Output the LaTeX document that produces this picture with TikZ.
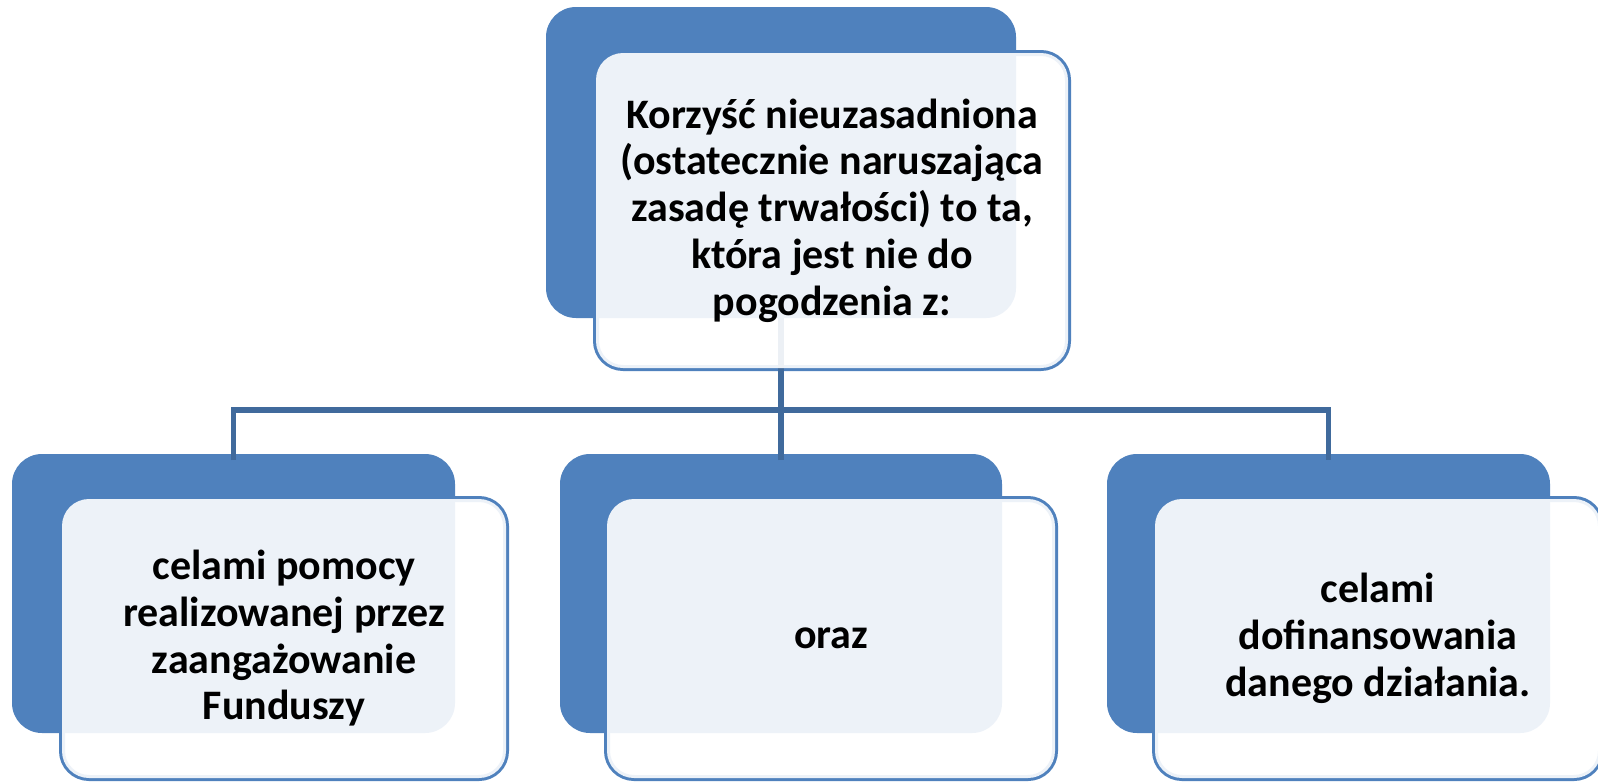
\documentclass[tikz,border=0pt]{standalone}
\usepackage{fontspec}
\setmainfont{Carlito}
\definecolor{backblue}{RGB}{79,129,189}
\definecolor{linkblue}{RGB}{64,106,156}
\tikzset{
  backbox/.style={rectangle, rounded corners=30pt, fill=backblue, draw=none, inner sep=0pt, outer sep=0pt},
  frontout/.style={rectangle, rounded corners=27pt, fill=white, draw=backblue, line width=6pt, inner sep=0pt, outer sep=0pt},
  frontfill/.style={rectangle, rounded corners=27pt, fill=white, fill opacity=0.9, text opacity=1, draw=none, inner sep=0pt, outer sep=0pt, align=center, font=\bfseries\fontsize{42}{46.7}\selectfont},
  link/.style={draw=linkblue, line width=5.5pt}
}
\begin{document}
\begin{tikzpicture}[x=1pt,y=-1pt]
\useasboundingbox (0,0) rectangle (1598,782);
% outlines of front boxes
\node[frontout, minimum width=472pt, minimum height=315pt] (f0o) at (832,210.5) {};
\node[frontout, minimum width=444pt, minimum height=279pt] (f1o) at (284,638.5) {};
\node[frontout, minimum width=448pt, minimum height=279pt] (f2o) at (831,638.5) {};
\node[frontout, minimum width=446pt, minimum height=279pt] (f3o) at (1378,638.5) {};
% back boxes
\node[backbox, minimum width=470pt, minimum height=311pt] (b0) at (781,162.5) {};
\node[backbox, minimum width=443pt, minimum height=279pt] (b1) at (233.5,593.5) {};
\node[backbox, minimum width=442pt, minimum height=279pt] (b2) at (781,593.5) {};
\node[backbox, minimum width=443pt, minimum height=279pt] (b3) at (1328.5,593.5) {};
% connectors
\coordinate (j) at (781,410);
\draw[link] (b0.south) -- (j);
\draw[link] ([yshift=-6pt]b1.north) -- (b1.north |- j) -- (b3.north |- j) -- ([yshift=-6pt]b3.north);
\draw[link] ([yshift=-6pt]b2.north) -- (b2.north |- j);
% front fills with text
\node[frontfill, minimum width=472pt, minimum height=315pt] (f0) at (832,210.5)
  {Korzyść nieuzasadniona\\(ostatecznie naruszająca\\zasadę trwałości) to ta,\\która jest nie do\\pogodzenia z:};
\node[frontfill, minimum width=444pt, minimum height=279pt] (f1) at (284,638.5)
  {celami pomocy\\realizowanej przez\\zaangażowanie\\Funduszy};
\node[frontfill, minimum width=448pt, minimum height=279pt] (f2) at (831,638.5) {oraz};
\node[frontfill, minimum width=446pt, minimum height=279pt] (f3) at (1378,638.5)
  {celami\\dofinansowania\\danego działania.};
\end{tikzpicture}
\end{document}
